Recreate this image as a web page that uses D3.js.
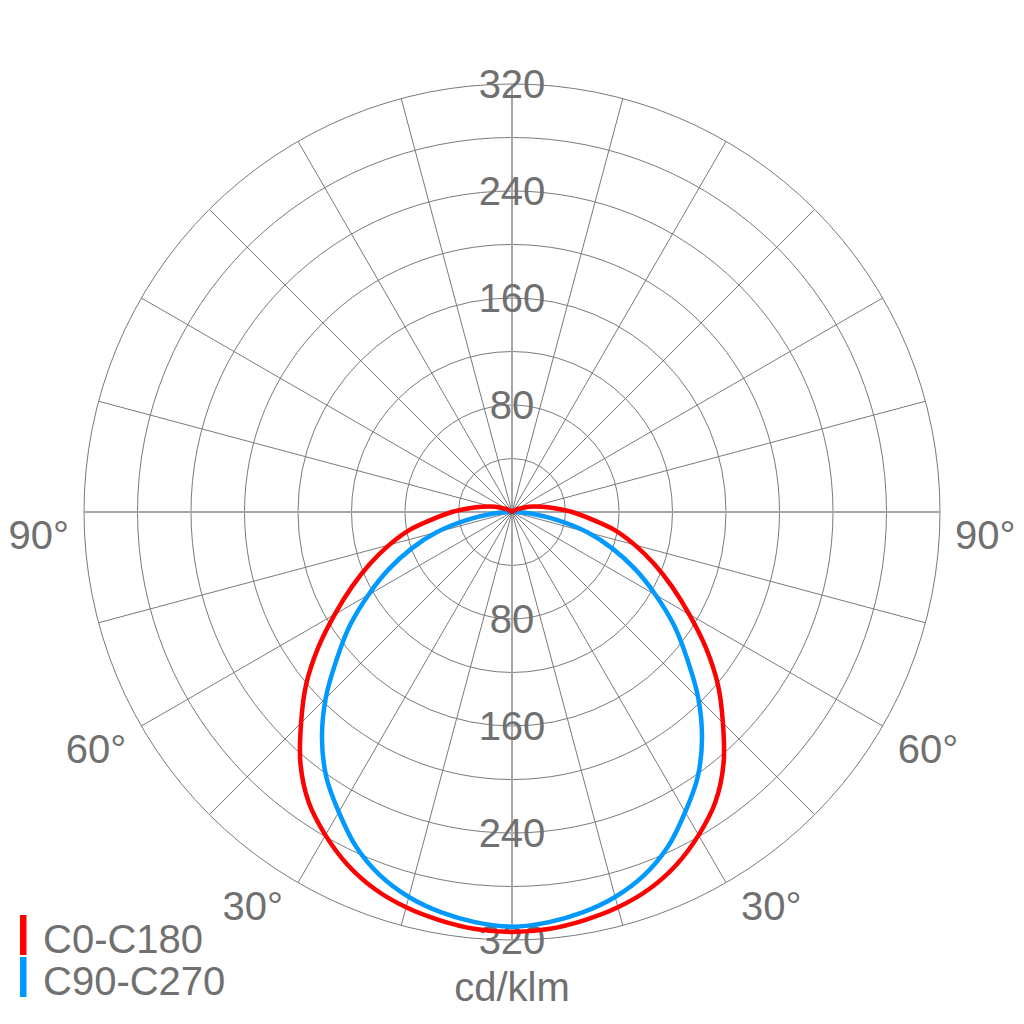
<!DOCTYPE html>
<html>
<head>
<meta charset="utf-8">
<script src="https://cdn.jsdelivr.net/npm/d3@7"></script>
<style>
  html, body { margin: 0; padding: 0; background: #fff; }
  text { font-family: "Liberation Sans", Arial, sans-serif; fill: #707070; }
</style>
</head>
<body>
<svg id="chart" width="1024" height="1024"></svg>
<script>
// gamma angles from nadir, degrees
const gammas = [0, 5, 10, 15, 20, 25, 30, 35, 40, 45, 50, 55, 60, 65, 70, 75, 80, 85, 90,
  95, 100, 105, 110, 115, 120, 125, 130, 135, 140, 145, 150, 155, 160, 165, 170, 175, 180];

// intensities, cd/klm
const c0c180 = [314, 313, 310, 306, 300, 291, 279, 265, 246, 223, 201, 177, 153, 132, 113, 95, 78, 59, 45,
  32, 23, 16, 10, 6, 4, 2, 1, 0, 0, 0, 0, 0, 0, 0, 0, 0, 0];
const c90c270 = [310, 308, 304, 298, 289, 276, 259, 242, 221, 197, 171, 148, 124, 102, 80, 58, 34, 15, 4,
  0, 0, 0, 0, 0, 0, 0, 0, 0, 0, 0, 0, 0, 0, 0, 0, 0, 0];

const ringValues = [40, 80, 120, 160, 200, 240, 280, 320];
const ringLabels = [80, 160, 240, 320];
const angleLabels = [30, 60, 90];
const seriesNames = ["C0-C180", "C90-C270"];
const seriesColors = ["#ff0000", "#0099ff"];
const unitLabel = "cd/klm";

const svg = d3.select("#chart");
const cx = 512, cy = 512;
const r = d3.scaleLinear().domain([0, 320]).range([0, 428]);
const R = r(320);
const rad = d => d * Math.PI / 180;

const g = svg.append("g").attr("transform", `translate(${cx},${cy})`);

// rings
g.selectAll("circle.ring")
  .data(ringValues)
  .enter().append("circle")
  .attr("class", "ring")
  .attr("r", d => r(d))
  .attr("fill", "none")
  .attr("stroke", "#7a7a7a")
  .attr("stroke-width", 1);

// spokes every 15 degrees
const spokes = d3.range(0, 360, 15);
g.selectAll("line.spoke")
  .data(spokes)
  .enter().append("line")
  .attr("class", "spoke")
  .attr("x1", 0).attr("y1", 0)
  .attr("x2", d => R * Math.sin(rad(d)))
  .attr("y2", d => -R * Math.cos(rad(d)))
  .attr("stroke", d => d % 90 === 0 ? "#a6a6a6" : "#7a7a7a")
  .attr("stroke-width", d => d % 90 === 0 ? 2 : 1);

// value labels, above and below the centre
const valueLabelData = ringLabels.flatMap(v => [{ v, s: -1 }, { v, s: 1 }]);
g.selectAll("text.val")
  .data(valueLabelData)
  .enter().append("text")
  .attr("class", "val")
  .attr("x", 0)
  .attr("y", d => d.s * r(d.v))
  .attr("dy", "0.35em")
  .attr("text-anchor", "middle")
  .style("font-size", "40px")
  .text(d => d.v);

// angle labels on both sides
const angleLabelData = angleLabels.flatMap(a => [{ a, s: -1 }, { a, s: 1 }]);
g.selectAll("text.ang")
  .data(angleLabelData)
  .enter().append("text")
  .attr("class", "ang")
  .attr("x", d => d.s * (R * Math.sin(rad(d.a)) + 15))
  .attr("y", d => R * Math.cos(rad(d.a)) + 23)
  .attr("dy", "0.35em")
  .attr("text-anchor", d => d.s < 0 ? "end" : "start")
  .style("font-size", "40px")
  .text(d => d.a + "°");

// curves: right half from nadir up, left half back down
function buildPoints(vals) {
  const right = gammas.map((t, i) => ({ a: Math.PI - rad(t), v: vals[i] }));
  const left = gammas.slice(1, -1).map((t, i) => ({ a: Math.PI + rad(t), v: vals[i + 1] })).reverse();
  return right.concat(left);
}

const radial = d3.lineRadial()
  .angle(d => d.a)
  .radius(d => r(d.v))
  .curve(d3.curveCatmullRomClosed.alpha(0.5));

// blue first so the red sits on top
[1, 0].forEach(i => {
  const vals = i === 0 ? c0c180 : c90c270;
  g.append("path")
    .attr("d", radial(buildPoints(vals)))
    .attr("fill", "none")
    .attr("stroke", seriesColors[i])
    .attr("stroke-width", 4.5)
    .attr("stroke-linejoin", "round");
});

// legend
const legend = svg.append("g");
seriesNames.forEach((name, i) => {
  legend.append("rect")
    .attr("x", 20)
    .attr("y", 915 + i * 42)
    .attr("width", 6.5)
    .attr("height", 40)
    .attr("fill", seriesColors[i]);
  legend.append("text")
    .attr("x", 43)
    .attr("y", 953 + i * 42)
    .style("font-size", "40px")
    .text(name);
});

svg.append("text")
  .attr("x", cx)
  .attr("y", 1001)
  .attr("text-anchor", "middle")
  .style("font-size", "40px")
  .text(unitLabel);
</script>
</body>
</html>
